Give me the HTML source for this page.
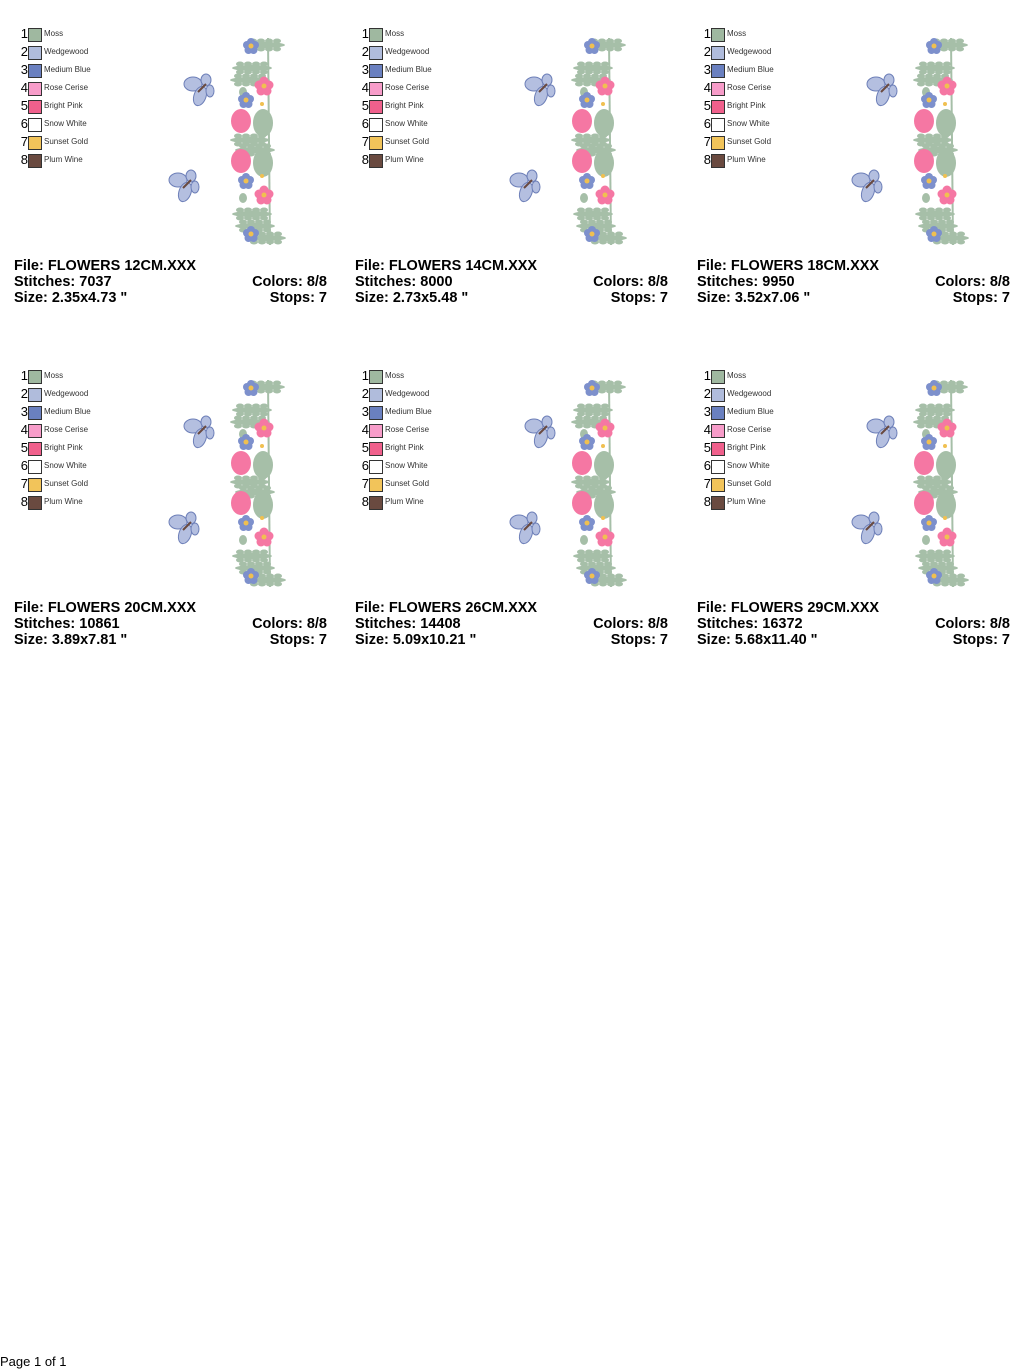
<!DOCTYPE html>
<html><head><meta charset="utf-8"><style>
html,body{margin:0;padding:0;background:#fff;}
body{width:1024px;height:1370px;position:relative;overflow:hidden;font-family:"Liberation Sans",Arial,sans-serif;}
.p{position:absolute;width:341px;height:342px;}
.n{position:absolute;left:14px;width:14px;text-align:right;font-size:13px;line-height:14px;color:#000;}
.s{position:absolute;left:28px;width:12px;height:12px;border:1px solid #333;}
.l{position:absolute;left:44px;font-size:8px;line-height:14px;color:#333;}
.t{position:absolute;font-weight:bold;font-size:14.5px;line-height:16px;color:#000;white-space:pre;}
.r{right:14px;text-align:right;}
svg.a{position:absolute;left:0;top:0;}
</style></head><body>
<svg width="0" height="0" style="position:absolute"><defs>
<g id="bf">
<ellipse cx="-8" cy="-4" rx="9" ry="7" fill="#b4bfe0" stroke="#6d7fb8" stroke-width="1"/>
<ellipse cx="5" cy="-8" rx="5" ry="6" fill="#b4bfe0" stroke="#6d7fb8" stroke-width="1"/>
<ellipse cx="-1" cy="8" rx="6" ry="10" transform="rotate(20 -1 8)" fill="#b4bfe0" stroke="#6d7fb8" stroke-width="1"/>
<ellipse cx="9" cy="3" rx="4" ry="6" fill="#b4bfe0" stroke="#6d7fb8" stroke-width="1"/>
<line x1="-3" y1="4" x2="5" y2="-4" stroke="#6a4a40" stroke-width="2"/>
</g>
<g id="bl">
<circle cx="0" cy="-4" r="4" fill="#7d90cc"/><circle cx="4" cy="-1" r="4" fill="#7d90cc"/><circle cx="2.5" cy="4" r="4" fill="#7d90cc"/><circle cx="-2.5" cy="4" r="4" fill="#7d90cc"/><circle cx="-4" cy="-1" r="4" fill="#7d90cc"/><circle r="2.5" fill="#f0c050"/>
</g>
<g id="pk">
<circle cx="0" cy="-5" r="4.5" fill="#f577a3"/><circle cx="5" cy="-1" r="4.5" fill="#f577a3"/><circle cx="3" cy="5" r="4.5" fill="#f577a3"/><circle cx="-3" cy="5" r="4.5" fill="#f577a3"/><circle cx="-5" cy="-1" r="4.5" fill="#f577a3"/><circle r="2.5" fill="#f0c050"/>
</g>
<g id="fern" fill="#a6bfa8">
<ellipse cx="0" cy="0" rx="20" ry="3"/><ellipse cx="-12" cy="-4" rx="4" ry="2.5"/><ellipse cx="-4" cy="-4" rx="4" ry="2.5"/><ellipse cx="4" cy="-4" rx="4" ry="2.5"/><ellipse cx="12" cy="-4" rx="4" ry="2.5"/><ellipse cx="-12" cy="4" rx="4" ry="2.5"/><ellipse cx="-4" cy="4" rx="4" ry="2.5"/><ellipse cx="4" cy="4" rx="4" ry="2.5"/><ellipse cx="12" cy="4" rx="4" ry="2.5"/>
</g>
<g id="art">
<line x1="268" y1="38" x2="270" y2="245" stroke="#a6bfa8" stroke-width="2"/>
<use href="#fern" x="265" y="45"/><use href="#fern" x="252" y="68"/><use href="#fern" x="250" y="80"/>
<use href="#fern" x="250" y="140"/><use href="#fern" x="255" y="150"/>
<use href="#fern" x="252" y="214"/><use href="#fern" x="255" y="226"/><use href="#fern" x="266" y="238"/>
<ellipse cx="263" cy="123" rx="10" ry="14" fill="#a6bfa8"/><ellipse cx="263" cy="163" rx="10" ry="14" fill="#a6bfa8"/>
<ellipse cx="243" cy="92" rx="4" ry="5" fill="#a6bfa8"/><ellipse cx="243" cy="198" rx="4" ry="5" fill="#a6bfa8"/>
<ellipse cx="241" cy="121" rx="10" ry="12" fill="#f577a3"/><ellipse cx="241" cy="161" rx="10" ry="12" fill="#f577a3"/>
<use href="#bl" x="251" y="46"/><use href="#bl" x="246" y="100"/><use href="#bl" x="246" y="181"/><use href="#bl" x="251" y="234"/>
<use href="#pk" x="264" y="86"/><use href="#pk" x="264" y="195"/>
<circle cx="262" cy="104" r="2" fill="#f0c050"/><circle cx="262" cy="176" r="2" fill="#f0c050"/>
<use href="#bf" x="201" y="88"/><use href="#bf" x="186" y="184"/>
</g>
</defs></svg>

<div class="p" style="left:0;top:0">
<svg class="a" width="341" height="342"><use href="#art"/></svg>
<div class="n" style="top:27px">1</div><div class="s" style="top:28px;background:#9fb8a0"></div><div class="l" style="top:27px">Moss</div>
<div class="n" style="top:45px">2</div><div class="s" style="top:46px;background:#b0bcdc"></div><div class="l" style="top:45px">Wedgewood</div>
<div class="n" style="top:63px">3</div><div class="s" style="top:64px;background:#6a80c0"></div><div class="l" style="top:63px">Medium Blue</div>
<div class="n" style="top:81px">4</div><div class="s" style="top:82px;background:#f79cc9"></div><div class="l" style="top:81px">Rose Cerise</div>
<div class="n" style="top:99px">5</div><div class="s" style="top:100px;background:#f0608c"></div><div class="l" style="top:99px">Bright Pink</div>
<div class="n" style="top:117px">6</div><div class="s" style="top:118px;background:#fff"></div><div class="l" style="top:117px">Snow White</div>
<div class="n" style="top:135px">7</div><div class="s" style="top:136px;background:#f2c45a"></div><div class="l" style="top:135px">Sunset Gold</div>
<div class="n" style="top:153px">8</div><div class="s" style="top:154px;background:#6a4a40"></div><div class="l" style="top:153px">Plum Wine</div>
<div class="t" style="left:14px;top:258px">File: FLOWERS 12CM.XXX</div>
<div class="t" style="left:14px;top:274px">Stitches: 7037</div>
<div class="t" style="left:14px;top:290px">Size: 2.35x4.73 "</div>
<div class="t r" style="top:274px">Colors: 8/8</div>
<div class="t r" style="top:290px">Stops: 7</div>
</div>

<div class="p" style="left:341px;top:0">
<svg class="a" width="341" height="342"><use href="#art"/></svg>
<div class="n" style="top:27px">1</div><div class="s" style="top:28px;background:#9fb8a0"></div><div class="l" style="top:27px">Moss</div>
<div class="n" style="top:45px">2</div><div class="s" style="top:46px;background:#b0bcdc"></div><div class="l" style="top:45px">Wedgewood</div>
<div class="n" style="top:63px">3</div><div class="s" style="top:64px;background:#6a80c0"></div><div class="l" style="top:63px">Medium Blue</div>
<div class="n" style="top:81px">4</div><div class="s" style="top:82px;background:#f79cc9"></div><div class="l" style="top:81px">Rose Cerise</div>
<div class="n" style="top:99px">5</div><div class="s" style="top:100px;background:#f0608c"></div><div class="l" style="top:99px">Bright Pink</div>
<div class="n" style="top:117px">6</div><div class="s" style="top:118px;background:#fff"></div><div class="l" style="top:117px">Snow White</div>
<div class="n" style="top:135px">7</div><div class="s" style="top:136px;background:#f2c45a"></div><div class="l" style="top:135px">Sunset Gold</div>
<div class="n" style="top:153px">8</div><div class="s" style="top:154px;background:#6a4a40"></div><div class="l" style="top:153px">Plum Wine</div>
<div class="t" style="left:14px;top:258px">File: FLOWERS 14CM.XXX</div>
<div class="t" style="left:14px;top:274px">Stitches: 8000</div>
<div class="t" style="left:14px;top:290px">Size: 2.73x5.48 "</div>
<div class="t r" style="top:274px">Colors: 8/8</div>
<div class="t r" style="top:290px">Stops: 7</div>
</div>

<div class="p" style="left:683px;top:0">
<svg class="a" width="341" height="342"><use href="#art"/></svg>
<div class="n" style="top:27px">1</div><div class="s" style="top:28px;background:#9fb8a0"></div><div class="l" style="top:27px">Moss</div>
<div class="n" style="top:45px">2</div><div class="s" style="top:46px;background:#b0bcdc"></div><div class="l" style="top:45px">Wedgewood</div>
<div class="n" style="top:63px">3</div><div class="s" style="top:64px;background:#6a80c0"></div><div class="l" style="top:63px">Medium Blue</div>
<div class="n" style="top:81px">4</div><div class="s" style="top:82px;background:#f79cc9"></div><div class="l" style="top:81px">Rose Cerise</div>
<div class="n" style="top:99px">5</div><div class="s" style="top:100px;background:#f0608c"></div><div class="l" style="top:99px">Bright Pink</div>
<div class="n" style="top:117px">6</div><div class="s" style="top:118px;background:#fff"></div><div class="l" style="top:117px">Snow White</div>
<div class="n" style="top:135px">7</div><div class="s" style="top:136px;background:#f2c45a"></div><div class="l" style="top:135px">Sunset Gold</div>
<div class="n" style="top:153px">8</div><div class="s" style="top:154px;background:#6a4a40"></div><div class="l" style="top:153px">Plum Wine</div>
<div class="t" style="left:14px;top:258px">File: FLOWERS 18CM.XXX</div>
<div class="t" style="left:14px;top:274px">Stitches: 9950</div>
<div class="t" style="left:14px;top:290px">Size: 3.52x7.06 "</div>
<div class="t r" style="top:274px">Colors: 8/8</div>
<div class="t r" style="top:290px">Stops: 7</div>
</div>

<div class="p" style="left:0;top:342px">
<svg class="a" width="341" height="342"><use href="#art"/></svg>
<div class="n" style="top:27px">1</div><div class="s" style="top:28px;background:#9fb8a0"></div><div class="l" style="top:27px">Moss</div>
<div class="n" style="top:45px">2</div><div class="s" style="top:46px;background:#b0bcdc"></div><div class="l" style="top:45px">Wedgewood</div>
<div class="n" style="top:63px">3</div><div class="s" style="top:64px;background:#6a80c0"></div><div class="l" style="top:63px">Medium Blue</div>
<div class="n" style="top:81px">4</div><div class="s" style="top:82px;background:#f79cc9"></div><div class="l" style="top:81px">Rose Cerise</div>
<div class="n" style="top:99px">5</div><div class="s" style="top:100px;background:#f0608c"></div><div class="l" style="top:99px">Bright Pink</div>
<div class="n" style="top:117px">6</div><div class="s" style="top:118px;background:#fff"></div><div class="l" style="top:117px">Snow White</div>
<div class="n" style="top:135px">7</div><div class="s" style="top:136px;background:#f2c45a"></div><div class="l" style="top:135px">Sunset Gold</div>
<div class="n" style="top:153px">8</div><div class="s" style="top:154px;background:#6a4a40"></div><div class="l" style="top:153px">Plum Wine</div>
<div class="t" style="left:14px;top:258px">File: FLOWERS 20CM.XXX</div>
<div class="t" style="left:14px;top:274px">Stitches: 10861</div>
<div class="t" style="left:14px;top:290px">Size: 3.89x7.81 "</div>
<div class="t r" style="top:274px">Colors: 8/8</div>
<div class="t r" style="top:290px">Stops: 7</div>
</div>

<div class="p" style="left:341px;top:342px">
<svg class="a" width="341" height="342"><use href="#art"/></svg>
<div class="n" style="top:27px">1</div><div class="s" style="top:28px;background:#9fb8a0"></div><div class="l" style="top:27px">Moss</div>
<div class="n" style="top:45px">2</div><div class="s" style="top:46px;background:#b0bcdc"></div><div class="l" style="top:45px">Wedgewood</div>
<div class="n" style="top:63px">3</div><div class="s" style="top:64px;background:#6a80c0"></div><div class="l" style="top:63px">Medium Blue</div>
<div class="n" style="top:81px">4</div><div class="s" style="top:82px;background:#f79cc9"></div><div class="l" style="top:81px">Rose Cerise</div>
<div class="n" style="top:99px">5</div><div class="s" style="top:100px;background:#f0608c"></div><div class="l" style="top:99px">Bright Pink</div>
<div class="n" style="top:117px">6</div><div class="s" style="top:118px;background:#fff"></div><div class="l" style="top:117px">Snow White</div>
<div class="n" style="top:135px">7</div><div class="s" style="top:136px;background:#f2c45a"></div><div class="l" style="top:135px">Sunset Gold</div>
<div class="n" style="top:153px">8</div><div class="s" style="top:154px;background:#6a4a40"></div><div class="l" style="top:153px">Plum Wine</div>
<div class="t" style="left:14px;top:258px">File: FLOWERS 26CM.XXX</div>
<div class="t" style="left:14px;top:274px">Stitches: 14408</div>
<div class="t" style="left:14px;top:290px">Size: 5.09x10.21 "</div>
<div class="t r" style="top:274px">Colors: 8/8</div>
<div class="t r" style="top:290px">Stops: 7</div>
</div>

<div class="p" style="left:683px;top:342px">
<svg class="a" width="341" height="342"><use href="#art"/></svg>
<div class="n" style="top:27px">1</div><div class="s" style="top:28px;background:#9fb8a0"></div><div class="l" style="top:27px">Moss</div>
<div class="n" style="top:45px">2</div><div class="s" style="top:46px;background:#b0bcdc"></div><div class="l" style="top:45px">Wedgewood</div>
<div class="n" style="top:63px">3</div><div class="s" style="top:64px;background:#6a80c0"></div><div class="l" style="top:63px">Medium Blue</div>
<div class="n" style="top:81px">4</div><div class="s" style="top:82px;background:#f79cc9"></div><div class="l" style="top:81px">Rose Cerise</div>
<div class="n" style="top:99px">5</div><div class="s" style="top:100px;background:#f0608c"></div><div class="l" style="top:99px">Bright Pink</div>
<div class="n" style="top:117px">6</div><div class="s" style="top:118px;background:#fff"></div><div class="l" style="top:117px">Snow White</div>
<div class="n" style="top:135px">7</div><div class="s" style="top:136px;background:#f2c45a"></div><div class="l" style="top:135px">Sunset Gold</div>
<div class="n" style="top:153px">8</div><div class="s" style="top:154px;background:#6a4a40"></div><div class="l" style="top:153px">Plum Wine</div>
<div class="t" style="left:14px;top:258px">File: FLOWERS 29CM.XXX</div>
<div class="t" style="left:14px;top:274px">Stitches: 16372</div>
<div class="t" style="left:14px;top:290px">Size: 5.68x11.40 "</div>
<div class="t r" style="top:274px">Colors: 8/8</div>
<div class="t r" style="top:290px">Stops: 7</div>
</div>

<div style="position:absolute;left:0;top:1354px;font-size:13px;line-height:16px;color:#000;">Page 1 of 1</div>
</body></html>
